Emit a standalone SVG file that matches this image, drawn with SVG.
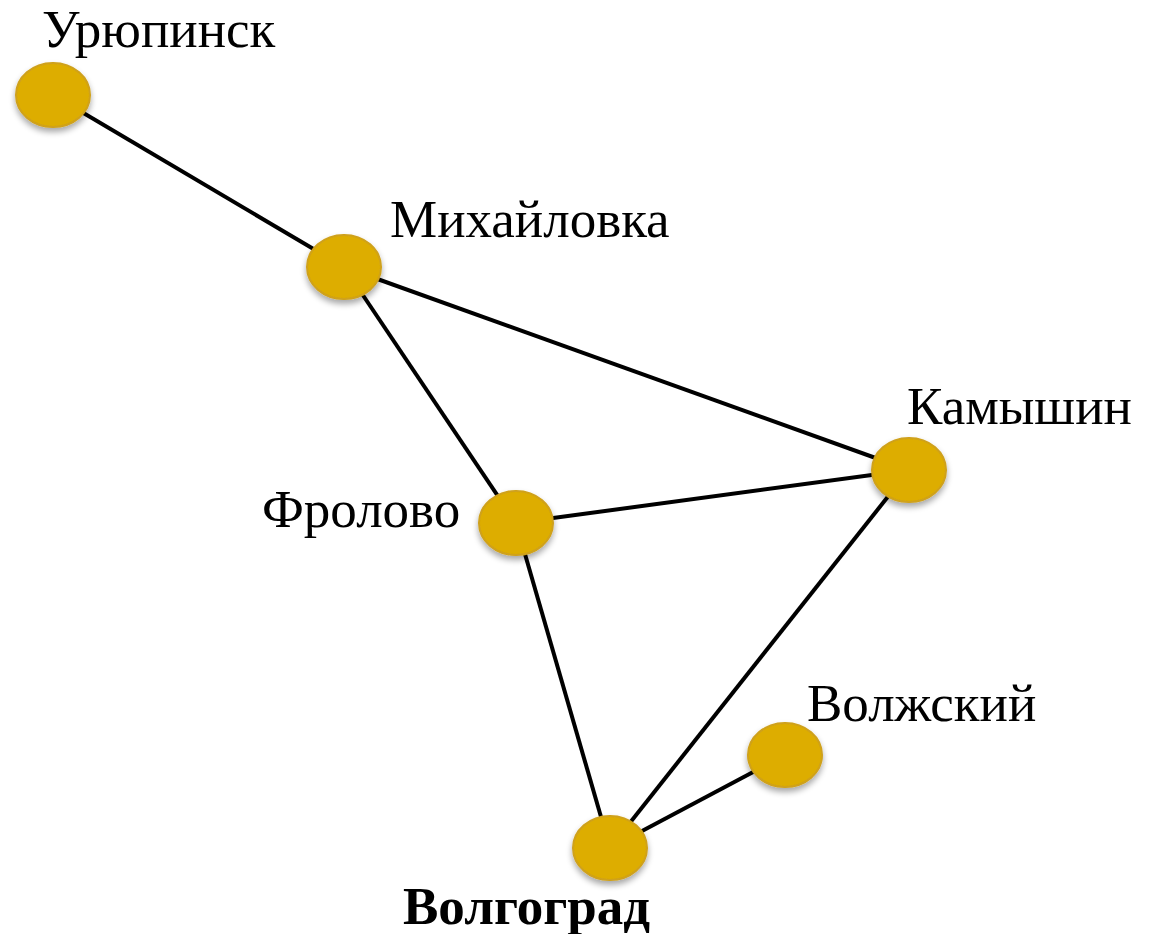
<svg xmlns="http://www.w3.org/2000/svg" width="1154" height="934" viewBox="0 0 1154 934">
  <defs>
    <filter id="shadow" x="-30%" y="-30%" width="160%" height="170%">
      <feGaussianBlur in="SourceAlpha" stdDeviation="3"/>
      <feOffset dx="0" dy="4" result="b"/>
      <feComponentTransfer><feFuncA type="linear" slope="0.35"/></feComponentTransfer>
      <feMerge><feMergeNode/><feMergeNode in="SourceGraphic"/></feMerge>
    </filter>
  </defs>
  <style>
    .edge { stroke: #000; stroke-width: 4; }
    .city { fill: #DDAD00; stroke: #CFA11A; stroke-width: 2; filter: url(#shadow); }
    .label { font-family: "Liberation Serif", "Times New Roman", serif; font-size: 53px; fill: #000; }
    .bold { font-weight: bold; }
  </style>
  <rect width="1154" height="934" fill="#fff"/>
  <g id="connectors">
    <line class="edge" x1="53" y1="95" x2="344" y2="267"/>
    <line class="edge" x1="344" y1="267" x2="909" y2="470"/>
    <line class="edge" x1="344" y1="267" x2="516" y2="523"/>
    <line class="edge" x1="516" y1="523" x2="909" y2="470"/>
    <line class="edge" x1="516" y1="523" x2="610" y2="848"/>
    <line class="edge" x1="909" y1="470" x2="610" y2="848"/>
    <line class="edge" x1="785" y1="755" x2="610" y2="848"/>
  </g>
  <g id="uryupinsk">
    <ellipse class="city" cx="53" cy="95" rx="37" ry="32"/>
    <text class="label" x="42" y="47">Урюпинск</text>
  </g>
  <g id="mikhaylovka">
    <ellipse class="city" cx="344" cy="267" rx="37" ry="32"/>
    <text class="label" x="390" y="237">Михайловка</text>
  </g>
  <g id="kamyshin">
    <ellipse class="city" cx="909" cy="470" rx="37" ry="32"/>
    <text class="label" x="907" y="424">Камышин</text>
  </g>
  <g id="frolovo">
    <ellipse class="city" cx="516" cy="523" rx="37" ry="32"/>
    <text class="label" x="262" y="527">Фролово</text>
  </g>
  <g id="volzhsky">
    <ellipse class="city" cx="785" cy="755" rx="37" ry="32"/>
    <text class="label" x="807" y="721">Волжский</text>
  </g>
  <g id="volgograd">
    <ellipse class="city" cx="610" cy="848" rx="37" ry="32"/>
    <text class="label bold" x="403" y="924">Волгоград</text>
  </g>
</svg>
